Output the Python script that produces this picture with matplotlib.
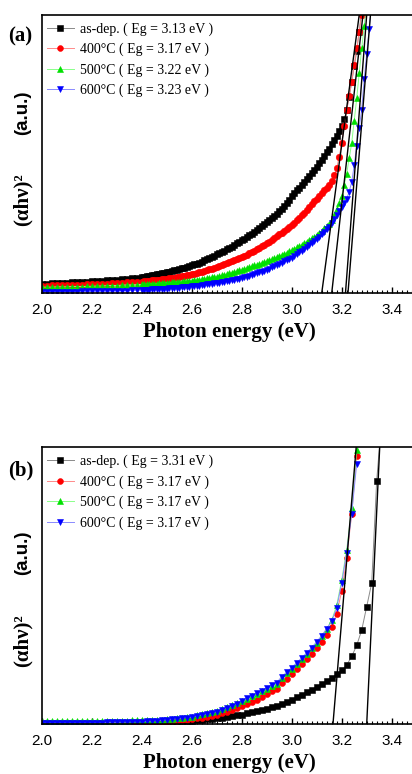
import matplotlib
matplotlib.use("Agg")
import matplotlib.pyplot as plt
from matplotlib.ticker import MultipleLocator, NullLocator

# ---------------- data ----------------
series_labels_a = ["as-dep. ( Eg = 3.13 eV )", "400°C ( Eg = 3.17 eV )",
                   "500°C ( Eg = 3.22 eV )", "600°C ( Eg = 3.23 eV )"]
series_labels_b = ["as-dep. ( Eg = 3.31 eV )", "400°C ( Eg = 3.17 eV )",
                   "500°C ( Eg = 3.17 eV )", "600°C ( Eg = 3.17 eV )"]

energy_a = [2.00, 2.02, 2.04, 2.06, 2.08, 2.10, 2.12, 2.14, 2.16, 2.18,
            2.20, 2.22, 2.24, 2.26, 2.28, 2.30, 2.32, 2.34, 2.36, 2.38,
            2.40, 2.41, 2.42, 2.43, 2.44, 2.45, 2.46, 2.47, 2.48, 2.49,
            2.50, 2.51, 2.52, 2.53, 2.54, 2.55, 2.56, 2.57, 2.58, 2.59,
            2.60, 2.61, 2.62, 2.63, 2.64, 2.65, 2.66, 2.67, 2.68, 2.69,
            2.70, 2.71, 2.72, 2.73, 2.74, 2.75, 2.76, 2.77, 2.78, 2.79,
            2.80, 2.81, 2.82, 2.83, 2.84, 2.85, 2.86, 2.87, 2.88, 2.89,
            2.90, 2.91, 2.92, 2.93, 2.94, 2.95, 2.96, 2.97, 2.98, 2.99,
            3.00, 3.01, 3.02, 3.03, 3.04, 3.05, 3.06, 3.07, 3.08, 3.09,
            3.10, 3.11, 3.12, 3.13, 3.14, 3.15, 3.16, 3.17, 3.18, 3.19,
            3.20, 3.21, 3.22, 3.23, 3.24, 3.25, 3.26, 3.27, 3.28, 3.29,
            3.30, 3.31, 3.32]

asdep_a = [.035, .035, .036, .036, .037, .038, .039, .040, .041, .042,
           .043, .044, .045, .046, .048, .049, .051, .052, .054, .056,
           .058, .0595, .061, .0625, .064, .066, .068, .070, .072, .074,
           .076, .078, .080, .0825, .085, .0875, .090, .0925, .095, .0975,
           .100, .1035, .107, .1105, .114, .118, .122, .1265, .131, .1355,
           .140, .1445, .149, .1535, .158, .163, .168, .1735, .179, .1845,
           .190, .196, .202, .208, .214, .2205, .227, .234, .241, .248,
           .255, .2625, .270, .278, .286, .295, .304, .314, .325, .337,
           .350, .360, .370, .380, .390, .400, .411, .422, .433, .444,
           .455, .467, .480, .493, .506, .520, .535, .550, .566, .582,
           .600, .625, .660, .705, .760, .815, .870, .940, 1.02]
c400_a = [.028, .028, .029, .029, .030, .030, .030, .031, .031, .032,
          .032, .033, .034, .035, .036, .037, .038, .039, .040, .041,
          .042, .043, .044, .045, .046, .047, .048, .049, .050, .051,
          .052, .0535, .055, .0565, .058, .0595, .061, .0625, .064, .066,
          .068, .0705, .073, .0755, .078, .0805, .083, .086, .089, .092,
          .095, .098, .101, .1045, .108, .1115, .115, .1185, .122, .126,
          .130, .1345, .139, .1435, .148, .153, .158, .1635, .169, .1745,
          .180, .186, .192, .1985, .205, .2115, .218, .2245, .231, .238,
          .245, .254, .263, .272, .281, .290, .300, .310, .320, .330,
          .340, .350, .360, .370, .380, .390, .405, .425, .450, .490,
          .540, .600, .660, .710, .760, .820, .880, .940, 1.00, 1.06]
c500_a = [.022, .022, .022, .023, .023, .023, .024, .024, .024, .025,
          .025, .026, .026, .027, .028, .028, .029, .030, .030, .031,
          .032, .0325, .033, .0335, .034, .0345, .035, .036, .037, .0375,
          .038, .0385, .039, .0395, .040, .041, .042, .0425, .043, .044,
          .045, .0465, .048, .0495, .051, .0525, .054, .0555, .057, .0585,
          .060, .062, .064, .0665, .069, .0715, .074, .0765, .079, .082,
          .085, .088, .091, .094, .097, .100, .103, .106, .109, .112,
          .115, .1185, .122, .126, .130, .134, .138, .142, .146, .1505,
          .155, .160, .165, .170, .175, .180, .186, .192, .198, .204,
          .210, .217, .225, .233, .241, .250, .265, .283, .303, .325,
          .350, .390, .430, .485, .540, .620, .700, .790, .880, .960, 1.05]
c600_a = [.005, .005, .005, .006, .006, .006, .006, .006, .007, .007,
          .007, .008, .008, .008, .009, .009, .010, .010, .011, .011,
          .012, .0125, .013, .0135, .014, .0145, .015, .0155, .016, .0165,
          .017, .0175, .018, .019, .020, .0205, .021, .022, .023, .024,
          .025, .026, .027, .028, .029, .0305, .032, .033, .034, .0355,
          .037, .0385, .040, .042, .044, .0455, .047, .049, .051, .053,
          .055, .0575, .060, .063, .066, .069, .072, .075, .078, .0815,
          .085, .089, .093, .097, .101, .1055, .110, .1145, .119, .1235,
          .128, .134, .140, .147, .153, .160, .167, .174, .181, .188,
          .195, .203, .212, .221, .230, .240, .252, .266, .280, .295,
          .310, .325, .340, .365, .400, .460, .530, .595, .660, .770,
          .860, .950, 1.04]

energy_b = [2.00, 2.02, 2.04, 2.06, 2.08, 2.10, 2.12, 2.14, 2.16, 2.18,
            2.20, 2.22, 2.24, 2.26, 2.28, 2.30, 2.32, 2.34, 2.36, 2.38,
            2.40, 2.42, 2.44, 2.46, 2.48, 2.50, 2.52, 2.54, 2.56, 2.58,
            2.60, 2.62, 2.64, 2.66, 2.68, 2.70, 2.72, 2.74, 2.76, 2.78,
            2.80, 2.82, 2.84, 2.86, 2.88, 2.90, 2.92, 2.94, 2.96, 2.98,
            3.00, 3.02, 3.04, 3.06, 3.08, 3.10, 3.12, 3.14, 3.16, 3.18,
            3.20, 3.22, 3.24, 3.26, 3.28, 3.30, 3.32, 3.34, 3.36]

asdep_b = [.003, .003, .003, .003, .003, .003, .003, .003, .003, .003,
           .003, .003, .004, .004, .004, .004, .004, .004, .005, .005,
           .005, .006, .006, .007, .007, .008, .009, .010, .011, .012,
           .013, .015, .016, .018, .020, .022, .024, .027, .029, .032,
           .035, .039, .043, .047, .051, .056, .061, .066, .073, .080,
           .088, .097, .106, .115, .125, .135, .145, .156, .168, .180,
           .195, .214, .245, .285, .340, .425, .510, .880, 1.10]
c400_b = [.004, .004, .004, .004, .004, .004, .004, .004, .004, .004,
          .004, .004, .005, .005, .005, .005, .006, .006, .006, .007,
          .007, .008, .008, .009, .009, .010, .011, .013, .014, .016,
          .018, .021, .024, .027, .031, .035, .040, .046, .052, .058,
          .065, .073, .081, .089, .099, .110, .119, .128, .150, .165,
          .180, .198, .216, .235, .255, .275, .298, .322, .350, .400,
          .480, .600, .760, .970]
c500_b = [.012, .012, .012, .012, .012, .012, .012, .012, .012, .012,
          .012, .012, .012, .013, .013, .013, .013, .013, .014, .014,
          .014, .015, .015, .016, .017, .018, .020, .022, .024, .026,
          .028, .032, .036, .040, .044, .048, .054, .061, .068, .076,
          .085, .093, .101, .109, .119, .128, .137, .146, .168, .184,
          .200, .218, .236, .254, .274, .295, .318, .345, .375, .430,
          .520, .630, .780, .990]
c600_b = [.006, .006, .006, .006, .006, .006, .006, .006, .006, .006,
          .006, .006, .006, .007, .007, .007, .008, .008, .009, .009,
          .010, .011, .012, .013, .014, .016, .018, .020, .022, .024,
          .026, .030, .034, .038, .042, .046, .052, .059, .066, .075,
          .085, .094, .103, .112, .122, .132, .142, .150, .172, .188,
          .205, .222, .240, .258, .277, .298, .320, .345, .372, .420,
          .510, .620, .760, .940]

# linear-fit (Tauc) lines: intercept with the axis and energy where they reach the top
fit_start_a = [3.12, 3.16, 3.215, 3.225]
fit_end_a = [3.27, 3.285, 3.30, 3.315]
fit_start_b = [3.165, 3.30]
fit_end_b = [3.258, 3.352]

x_ticks = [2.0, 2.2, 2.4, 2.6, 2.8, 3.0, 3.2, 3.4]

# ---------------- style ----------------
markers = ['s', 'o', '^', 'v']
mcolors = ['#000000', '#ff0000', '#00e000', '#0000ff']
lcolors = ['#8a8a8a', '#ff8a8a', '#8aff8a', '#8a8aff']
SERIF = ['Liberation Serif', 'DejaVu Serif']
SANS = ['Liberation Sans', 'DejaVu Sans']

fig = plt.figure(figsize=(4.12, 7.74), dpi=100)
W, H = 412.0, 774.0


def make_panel(top_px, bottom_px, xs, ys_list, labels, fs, fe, tag, au_y, ah_y, ms):
    left_px, right_px = 41.7, 416.7
    ax = fig.add_axes([left_px / W, 1 - bottom_px / H,
                       (right_px - left_px) / W, (bottom_px - top_px) / H])
    for y, m, mc, lc, lab in zip(ys_list, markers, mcolors, lcolors, labels):
        ax.plot(xs[:len(y)], y, '-', color=lc, lw=0.7, marker=m, ms=ms,
                mfc=mc, mec=mc, mew=0.4, label=lab)
    for x0, x1 in zip(fs, fe):
        ax.plot([x0, x1], [0.0, 1.0], '-', color='black', lw=1.0)
    ax.set_xlim(2.0, 3.5)
    ax.set_ylim(0.0, 1.0)
    ax.set_xticks(x_ticks)
    ax.set_xticklabels([f"{t:.1f}" for t in x_ticks], fontfamily=SANS, fontsize=11)
    ax.xaxis.set_minor_locator(MultipleLocator(0.02))
    ax.yaxis.set_major_locator(NullLocator())
    ax.tick_params(axis='x', which='major', direction='in', length=4.5, width=1.0, pad=7)
    ax.tick_params(axis='x', which='minor', direction='in', length=2.5, width=0.8)
    ax.spines['right'].set_visible(False)
    for s in ['left', 'top', 'bottom']:
        ax.spines[s].set_linewidth(1.2)
    ax.set_xlabel("Photon energy (eV)", fontfamily=SERIF, fontweight='bold',
                  fontsize=15, labelpad=3.5)
    hpx = bottom_px - top_px
    leg = ax.legend(loc='upper left', bbox_to_anchor=(0.0, 1.0 - 2.0 / hpx),
                    frameon=False, prop={'family': SERIF, 'size': 10},
                    handlelength=1.9, handletextpad=0.45, labelspacing=0.5,
                    borderaxespad=0.0, borderpad=0.4)
    for h in leg.legend_handles:
        h.set_markersize(4.2)
    fig.text(tag[1] / W, 1 - tag[2] / H, tag[0], fontfamily=SERIF, fontweight='bold',
             fontsize=15, ha='center', va='center')
    ax.text(-0.052, au_y, "(a.u.)", transform=ax.transAxes, rotation=90,
            fontfamily=SANS, fontweight='bold', fontsize=13.5, ha='center', va='center')
    ax.text(-0.052, ah_y, "(αhν)²", transform=ax.transAxes, rotation=90,
            fontfamily=SERIF, fontweight='bold', fontsize=15, ha='center', va='center')
    return ax


make_panel(15.0, 293.3, energy_a, [asdep_a, c400_a, c500_a, c600_a], series_labels_a,
           fit_start_a, fit_end_a, ("(a)", 20, 36), 0.647, 0.335, 4.7)
make_panel(447.3, 724.3, energy_b, [asdep_b, c400_b, c500_b, c600_b], series_labels_b,
           fit_start_b, fit_end_b, ("(b)", 21, 470), 0.62, 0.303, 4.3)

fig.savefig("out.png", dpi=100)
